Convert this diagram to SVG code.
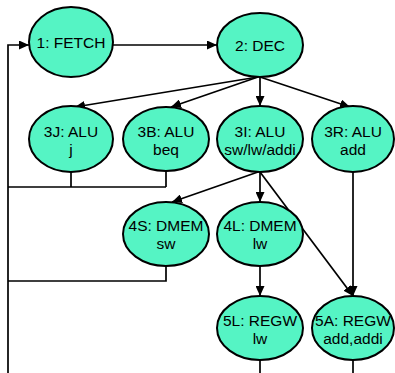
<svg xmlns="http://www.w3.org/2000/svg" width="395" height="373" viewBox="0 0 395 373">
  <style>
    .node ellipse { fill: #55F4C4; stroke: #000; stroke-width: 2; }
    .node text { font-family: "Liberation Sans", Arial, sans-serif; font-size: 15.5px; fill: #000; text-anchor: middle; }
    .edges path, .edges line { fill: none; stroke: #000; stroke-width: 1.7; }
    .arrow { marker-end: url(#head); }
  </style>
  <defs>
    <marker id="head" markerUnits="userSpaceOnUse" markerWidth="11" markerHeight="9" refX="10" refY="4.5" orient="auto">
      <path d="M0,0 L10,4.5 L0,9 z" fill="#000"/>
    </marker>
  </defs>
  <rect width="395" height="373" fill="#fff"/>

  <!-- connectors -->
  <g class="edges">
    <line class="arrow" x1="113" y1="45" x2="217" y2="45"/>
    <line class="arrow" x1="258" y1="77" x2="75" y2="107"/>
    <line class="arrow" x1="258" y1="77" x2="171" y2="107"/>
    <line class="arrow" x1="260" y1="77" x2="260" y2="106"/>
    <line class="arrow" x1="260" y1="77" x2="350" y2="107"/>
    <line class="arrow" x1="258" y1="172" x2="172" y2="202"/>
    <line class="arrow" x1="260" y1="172" x2="260" y2="202"/>
    <line class="arrow" x1="260" y1="172" x2="353" y2="296"/>
    <line class="arrow" x1="353" y1="172" x2="353" y2="296"/>
    <line class="arrow" x1="260" y1="266" x2="260" y2="296"/>
    <!-- return paths back to FETCH -->
    <path class="arrow" d="M8,373 V45 H29"/>
    <path d="M71,172 V187 M166,171 V187 M8,187 H166"/>
    <path d="M166,266 V281 H8"/>
    <path d="M260,360 V373 M353,360 V373"/>
  </g>

  <g id="fetch" class="node">
    <ellipse cx="71" cy="42" rx="42" ry="35"/>
    <text x="71" y="48">1: FETCH</text>
  </g>
  <g id="dec" class="node">
    <ellipse cx="260" cy="45" rx="43" ry="32"/>
    <text x="260" y="51">2: DEC</text>
  </g>
  <g id="alu-3j" class="node">
    <ellipse cx="71" cy="139" rx="42" ry="33"/>
    <text x="71" y="137">3J: ALU</text>
    <text x="71" y="155">j</text>
  </g>
  <g id="alu-3b" class="node">
    <ellipse cx="166" cy="139" rx="43" ry="32"/>
    <text x="166" y="137">3B: ALU</text>
    <text x="166" y="155">beq</text>
  </g>
  <g id="alu-3i" class="node">
    <ellipse cx="260" cy="139" rx="43" ry="33"/>
    <text x="260" y="137">3I: ALU</text>
    <text x="260" y="155">sw/lw/addi</text>
  </g>
  <g id="alu-3r" class="node">
    <ellipse cx="353" cy="139" rx="41" ry="33"/>
    <text x="353" y="137">3R: ALU</text>
    <text x="353" y="155">add</text>
  </g>
  <g id="dmem-4s" class="node">
    <ellipse cx="166" cy="234" rx="43" ry="32"/>
    <text x="166" y="231">4S: DMEM</text>
    <text x="166" y="249">sw</text>
  </g>
  <g id="dmem-4l" class="node">
    <ellipse cx="260" cy="234" rx="43" ry="32"/>
    <text x="260" y="231">4L: DMEM</text>
    <text x="260" y="249">lw</text>
  </g>
  <g id="regw-5l" class="node">
    <ellipse cx="260" cy="328" rx="43" ry="32"/>
    <text x="260" y="326">5L: REGW</text>
    <text x="260" y="344">lw</text>
  </g>
  <g id="regw-5a" class="node">
    <ellipse cx="353" cy="328" rx="41" ry="32"/>
    <text x="353" y="326">5A: REGW</text>
    <text x="353" y="344">add,addi</text>
  </g>
</svg>
